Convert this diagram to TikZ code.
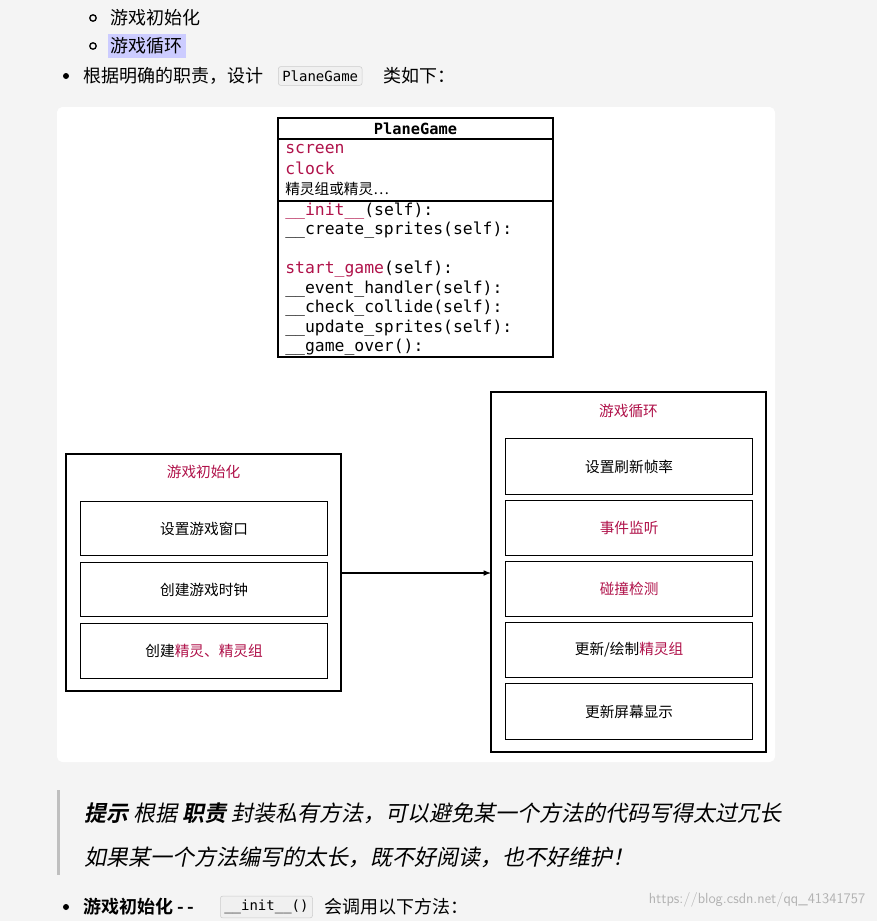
\documentclass[tikz,border=0pt]{standalone}
\usepackage{fontspec}
\setmainfont{Noto Sans CJK SC}
\newfontfamily\cjkb{Noto Sans CJK SC Bold}
\newfontfamily\cjksl[FakeSlant=0.2]{Noto Sans CJK SC}
\newfontfamily\cjkbsl[FakeSlant=0.2]{Noto Sans CJK SC Bold}
\setmonofont{DejaVu Sans Mono}
\begin{document}
\begin{tikzpicture}[x=0.75pt,y=-0.75pt,
  code/.style={font=\ttfamily\fontsize{12.3}{12.3}\selectfont,anchor=west,inner sep=0pt},
  inbox/.style={draw,line width=0.9pt,minimum width=247*0.75pt,anchor=north west,font=\fontsize{11}{11}\selectfont},
  outbox/.style={draw,line width=0.9pt},
  chip/.style={draw=gray!40,fill=gray!12,rounded corners=2pt,font=\ttfamily\fontsize{10.5}{10.5}\selectfont,inner sep=3pt,anchor=west},
  ttl/.style={font=\fontsize{11}{11}\selectfont,text=hl},
  txt/.style={font=\fontsize{13.5}{13.5}\selectfont,anchor=west,inner sep=0pt}]
\definecolor{hl}{HTML}{B0124A}
\definecolor{bg}{HTML}{F4F4F4}
\useasboundingbox (0,0) rectangle (877,921);
\fill[bg] (0,0) rectangle (877,921);
% bullets
\draw[line width=1pt] (93,18) circle (3.2);
\node[txt] (b1) at (110,18) {游戏初始化};
\draw[line width=1pt] (93,46) circle (3.2);
\fill[blue!20] (108,34) rectangle (186,58);
\node[txt] (b2) at (110,46) {游戏循环};
\fill (66,76) circle (3);
\node[txt] (b3) at (83,76) {根据明确的职责，设计};
\node[chip] (pg) at (278,76) {PlaneGame};
\node[txt] (b4) at (383,76) {类如下：};
% panel
\fill[white,rounded corners=4pt] (57,107) rectangle (775,762);
% class box
\draw[line width=1pt] (278,118) rectangle (553,357);
\draw[line width=1pt] (278,139) -- (553,139);
\draw[line width=1pt] (278,201) -- (553,201);
\node[font=\ttfamily\bfseries\fontsize{11.5}{11.5}\selectfont] (cn) at (415.5,129) {PlaneGame};
\node[code,text=hl] (a1) at (285,149) {screen};
\node[code,text=hl] (a2) at (285,168) {clock};
\node[code,font=\fontsize{11}{11}\selectfont] (a3) at (285,189) {精灵组或精灵…};
\node[code] (m1) at (285,211) {\textcolor{hl}{\_\_init\_\_}(self):};
\node[code] (m2) at (285,230) {\_\_create\_sprites(self):};
\node[code] (m3) at (285,269) {\textcolor{hl}{start\_game}(self):};
\node[code] (m4) at (285,289) {\_\_event\_handler(self):};
\node[code] (m5) at (285,308) {\_\_check\_collide(self):};
\node[code] (m6) at (285,328) {\_\_update\_sprites(self):};
\node[code] (m7) at (285,347) {\_\_game\_over():};
% init box
\draw[outbox] (66,454) rectangle (341,691);
\node[ttl] (it) at (203.5,472) {游戏初始化};
\node[inbox,minimum height=54*0.75pt] (i1) at (80,501) {设置游戏窗口};
\node[inbox,minimum height=54*0.75pt] (i2) at (80,562) {创建游戏时钟};
\node[inbox,minimum height=55*0.75pt] (i3) at (80,623) {创建\textcolor{hl}{精灵、精灵组}};
% loop box
\draw[outbox] (491,392) rectangle (766,752);
\node[ttl] (lt) at (628.5,411) {游戏循环};
\node[inbox,minimum height=56*0.75pt] (l1) at (505,438) {设置刷新帧率};
\node[inbox,minimum height=55*0.75pt,text=hl] (l2) at (505,500) {事件监听};
\node[inbox,minimum height=55*0.75pt,text=hl] (l3) at (505,561) {碰撞检测};
\node[inbox,minimum height=55*0.75pt] (l4) at (505,622) {更新/绘制\textcolor{hl}{精灵组}};
\node[inbox,minimum height=56*0.75pt] (l5) at (505,683) {更新屏幕显示};
\coordinate (as) at (341,573);
\coordinate (ae) at (491,573);
\draw[-latex,line width=0.9pt] (as) -- (ae);
% quote
\fill[gray!50] (57,790) rectangle (60,875);
\node[txt,font=\fontsize{16.5}{16.5}\selectfont] (q1) at (84,813) {{\cjkbsl 提示} {\cjksl 根据} {\cjkbsl 职责} \cjksl 封装私有方法，可以避免某一个方法的代码写得太过冗长};
\node[txt,font=\fontsize{16.5}{16.5}\selectfont] (q2) at (84,857) {\cjksl 如果某一个方法编写的太长，既不好阅读，也不好维护！};
% bottom
\fill (66,907) circle (3);
\node[txt] (c1) at (83,907) {\cjkb 游戏初始化 -\,-};
\node[chip] (ic) at (220,907) {\_\_init\_\_()};
\node[txt] (c2) at (324,907) {会调用以下方法：};
\node[font=\sffamily\fontsize{11}{11}\selectfont,text=gray!60,anchor=east] (wm) at (870,900) {https://blog.csdn.net/qq\_41341757};
\end{tikzpicture}
\end{document}
